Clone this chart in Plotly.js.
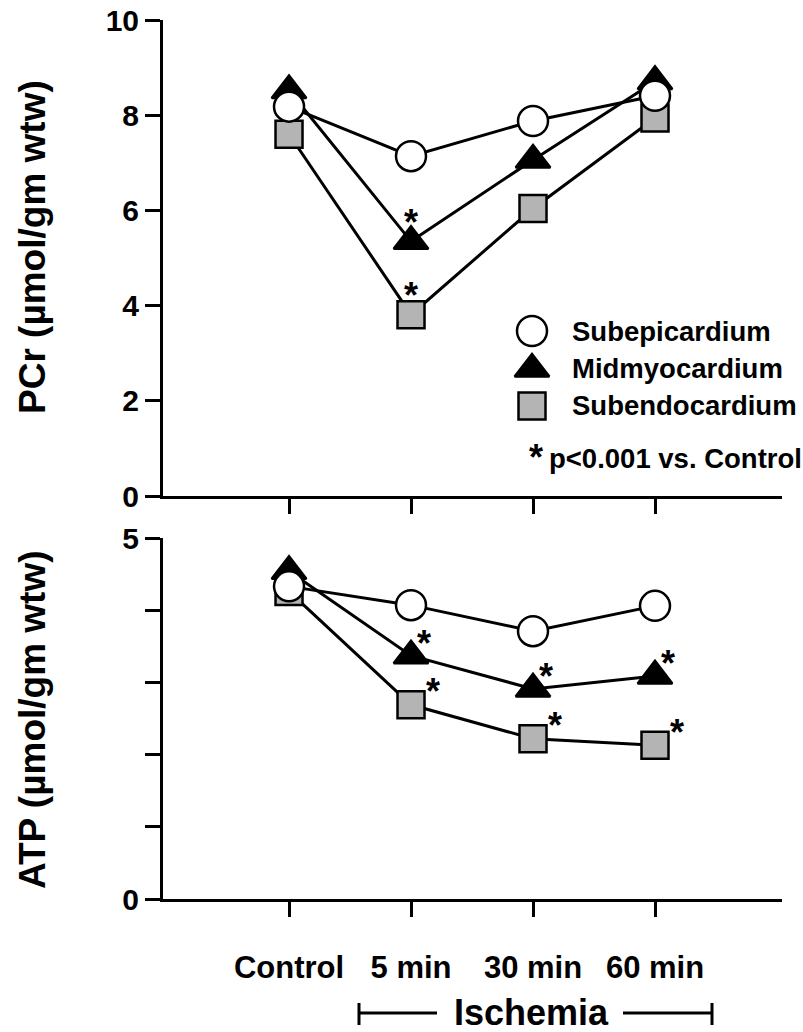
<!DOCTYPE html>
<html>
<head>
<meta charset="utf-8">
<script src="https://cdn.plot.ly/plotly-3.0.1.min.js"></script>
<style>html,body{margin:0;padding:0;background:#fff;}</style>
</head>
<body>
<div id="chart" style="width:803px;height:1032px;"></div>
<script>
// ---- data ----
const categories = ['Control', '5 min', '30 min', '60 min'];
const seriesNames = ['Subepicardium', 'Midmyocardium', 'Subendocardium'];
const pcrSubepi = [8.18, 7.14, 7.88, 8.41];
const pcrMid = [8.52, 5.35, 7.06, 8.71];
const pcrSubendo = [7.60, 3.81, 6.04, 7.94];
const atpSubepi = [4.33, 4.07, 3.71, 4.06];
const atpMid = [4.54, 3.37, 2.91, 3.09];
const atpSubendo = [4.26, 2.69, 2.22, 2.13];
// significance flags (p<0.001 vs. Control)
const pcrMidSig = [false, true, false, false];
const pcrSubendoSig = [false, true, false, false];
const atpMidSig = [false, true, true, true];
const atpSubendoSig = [false, true, true, true];
const pcrTicks = [0, 2, 4, 6, 8, 10];
const atpTicks = [0, 1, 2, 3, 4, 5];
const atpTickText = ['0', '', '', '', '', '5'];
const pcrTitle = 'PCr (µmol/gm wtw)';
const atpTitle = 'ATP (µmol/gm wtw)';
const legendNote = 'p<0.001 vs. Control';

const xIdx = categories.map((c, i) => i);
const FONT = 'Liberation Sans, Arial, Helvetica, sans-serif';

// plot area in page pixels
const PL = 163, PR = 782, PT = 20, PB = 899;
const fx = px => (px - PL) / (PR - PL);
const fy = py => (PB - py) / (PB - PT);

const styles = [
  {symbol: 'circle', size: 30, color: '#ffffff'},
  {symbol: 'triangle-up', size: 30, color: '#000000'},
  {symbol: 'square', size: 27, color: '#b4b4b4'}
];

function mk(y, s, xa, ya) {
  return {
    x: xIdx, y: y, xaxis: xa, yaxis: ya, type: 'scatter', mode: 'lines+markers',
    line: {color: '#000', width: 3},
    marker: {symbol: s.symbol, size: s.size, color: s.color, line: {color: '#000', width: 2.5}},
    showlegend: false, cliponaxis: false, hoverinfo: 'skip'
  };
}

const traces = [
  mk(pcrSubendo, styles[2], 'x', 'y'),
  mk(pcrMid, styles[1], 'x', 'y'),
  mk(pcrSubepi, styles[0], 'x', 'y'),
  mk(atpSubendo, styles[2], 'x2', 'y2'),
  mk(atpMid, styles[1], 'x2', 'y2'),
  mk(atpSubepi, styles[0], 'x2', 'y2')
];

// legend keys on a free full-area axis pair (plot-area fractions)
const legMarkerX = fx(532);
const legTextX = fx(570);
const legY = [fy(331), fy(369), fy(406)];
[0, 1, 2].forEach(i => {
  const s = styles[i];
  traces.push({
    x: [legMarkerX], y: [legY[i]], xaxis: 'x3', yaxis: 'y3', type: 'scatter', mode: 'markers',
    marker: {symbol: s.symbol, size: s.size, color: s.color, line: {color: '#000', width: 2.5}},
    showlegend: false, cliponaxis: false, hoverinfo: 'skip'
  });
});

const titleFont = {family: FONT, size: 37, color: '#000', weight: 700};
const annotations = [];
// y-axis titles
annotations.push({xref: 'paper', yref: 'paper', x: fx(32), y: fy(247), xanchor: 'center', yanchor: 'middle',
  textangle: -90, text: pcrTitle, showarrow: false, font: titleFont});
annotations.push({xref: 'paper', yref: 'paper', x: fx(32), y: fy(720), xanchor: 'center', yanchor: 'middle',
  textangle: -90, text: atpTitle, showarrow: false, font: titleFont});

[0, 1, 2].forEach(i => {
  annotations.push({xref: 'paper', yref: 'paper', x: legTextX, y: legY[i], xanchor: 'left', yanchor: 'middle',
    text: seriesNames[i], showarrow: false, font: {family: FONT, size: 27.5, color: '#000', weight: 700}});
});
annotations.push({xref: 'paper', yref: 'paper', x: fx(536), y: fy(449), xanchor: 'center', yanchor: 'middle',
  text: '*', showarrow: false, yshift: -8, font: {family: FONT, size: 36, color: '#000', weight: 700}});
annotations.push({xref: 'paper', yref: 'paper', x: fx(547), y: fy(458), xanchor: 'left', yanchor: 'middle',
  text: legendNote, showarrow: false, font: {family: FONT, size: 27.5, color: '#000', weight: 700}});

function stars(vals, sig, xa, ya, dx, dy) {
  vals.forEach((v, i) => {
    if (!sig[i]) return;
    annotations.push({xref: xa, yref: ya, x: xIdx[i], y: v, text: '*', showarrow: false,
      xshift: dx, yshift: dy, xanchor: 'center', yanchor: 'middle',
      font: {family: FONT, size: 36, color: '#000', weight: 700}});
  });
}
stars(pcrMid, pcrMidSig, 'x', 'y', 0, 19);
stars(pcrSubendo, pcrSubendoSig, 'x', 'y', 0, 19);
stars(atpMid, atpMidSig, 'x2', 'y2', 13, 12);
stars(atpSubendo, atpSubendoSig, 'x2', 'y2', 22, 13);

// Ischemia label + bracket
annotations.push({xref: 'paper', yref: 'paper', x: fx(531), y: fy(1013), xanchor: 'center', yanchor: 'middle',
  text: 'Ischemia', showarrow: false, font: {family: FONT, size: 36, color: '#000', weight: 700}});

const bl = {color: '#000', width: 3};
const shapes = [
  {type: 'line', xref: 'paper', yref: 'paper', x0: fx(359), x1: fx(437), y0: fy(1013), y1: fy(1013), line: bl},
  {type: 'line', xref: 'paper', yref: 'paper', x0: fx(623), x1: fx(712), y0: fy(1013), y1: fy(1013), line: bl},
  {type: 'line', xref: 'paper', yref: 'paper', x0: fx(359), x1: fx(359), y0: fy(1003), y1: fy(1025), line: bl},
  {type: 'line', xref: 'paper', yref: 'paper', x0: fx(712), x1: fx(712), y0: fy(1003), y1: fy(1025), line: bl}
];

const tickFont = {family: FONT, size: 30, color: '#000', weight: 700};
const xTickFont = {family: FONT, size: 31, color: '#000', weight: 700};
const xRange = [-1.033, 4.041];

const common = {
  showline: true, linecolor: '#000', linewidth: 3, ticks: 'outside', ticklen: 15, tickwidth: 3,
  tickcolor: '#000', showgrid: false, zeroline: false, fixedrange: true, tickfont: tickFont
};

const layout = {
  width: 803, height: 1032,
  margin: {l: PL, r: 803 - PR, t: PT, b: 1032 - PB},
  paper_bgcolor: '#fff', plot_bgcolor: 'rgba(0,0,0,0)',
  font: {family: FONT, color: '#000'},
  showlegend: false,
  xaxis: Object.assign({}, common, {domain: [0, 1], range: xRange, tickmode: 'array', tickvals: xIdx,
    showticklabels: false, anchor: 'y'}),
  yaxis: Object.assign({}, common, {domain: [fy(496), 1], range: [0, 10], tickmode: 'array', tickvals: pcrTicks,
    anchor: 'x'}),
  xaxis2: Object.assign({}, common, {domain: [0, 1], range: xRange, tickmode: 'array', tickvals: xIdx,
    ticktext: categories, tickfont: xTickFont, anchor: 'y2', ticklabelstandoff: 24}),
  yaxis2: Object.assign({}, common, {domain: [0, fy(538)], range: [0, 5], tickmode: 'array', tickvals: atpTicks,
    ticktext: atpTickText, anchor: 'x2'}),
  xaxis3: {domain: [0, 1], range: [0, 1], visible: false, anchor: 'y3', fixedrange: true},
  yaxis3: {domain: [0, 1], range: [0, 1], visible: false, anchor: 'x3', fixedrange: true},
  annotations: annotations,
  shapes: shapes
};

Plotly.newPlot('chart', traces, layout, {displayModeBar: false, staticPlot: true});
</script>
</body>
</html>
